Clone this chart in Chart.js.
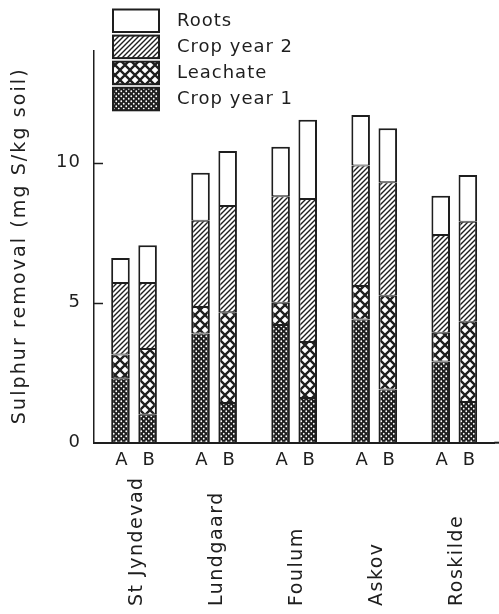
<!DOCTYPE html>
<html>
<head>
<meta charset="utf-8">
<script src="https://cdn.jsdelivr.net/npm/chart.js@4.4.0/dist/chart.umd.min.js"></script>
<style>
  html, body { margin: 0; padding: 0; background: #fff; }
  #wrap { width: 499px; height: 614px; }
</style>
</head>
<body>
<div id="wrap"><canvas id="c" width="499" height="614"></canvas></div>
<script>
// Sulphur removal per site and treatment, mg S/kg soil
const sites = ['St Jyndevad', 'Lundgaard', 'Foulum', 'Askov', 'Roskilde'];
const treatments = ['A', 'B'];
const components = ['Crop year 1', 'Leachate', 'Crop year 2', 'Roots'];

const cropYear1A = [2.3, 3.9, 4.2, 4.4, 2.9];
const leachateA  = [0.85, 0.95, 0.8, 1.2, 1.03];
const cropYear2A = [2.55, 3.08, 3.8, 4.3, 3.49];
const rootsA     = [0.9, 1.71, 1.77, 1.8, 1.4];

const cropYear1B = [1.0, 1.42, 1.6, 1.9, 1.45];
const leachateB  = [2.35, 3.24, 2.0, 3.35, 2.87];
const cropYear2B = [2.35, 3.79, 5.1, 4.05, 3.57];
const rootsB     = [1.35, 1.97, 2.83, 1.93, 1.67];

const yTicks = [0, 5, 10];
const yTitle = 'Sulphur removal (mg S/kg soil)';

const INK = '#1e1e1e';
const FONT = '"DejaVu Sans", sans-serif';

// Fill patterns for the four components
function makePattern(kind) {
  const c = document.createElement('canvas');
  const g = c.getContext('2d');
  if (kind === 'plain') {
    return '#ffffff';
  }
  if (kind === 'hatch') {
    c.width = 5; c.height = 5;
    g.fillStyle = '#fff'; g.fillRect(0, 0, 5, 5);
    g.strokeStyle = INK; g.lineWidth = 1.4;
    g.beginPath();
    g.moveTo(-1, 6); g.lineTo(6, -1);
    g.moveTo(-1, 1); g.lineTo(1, -1);
    g.moveTo(4, 6); g.lineTo(6, 4);
    g.stroke();
  } else if (kind === 'lattice') {
    c.width = 10; c.height = 10;
    g.fillStyle = '#fff'; g.fillRect(0, 0, 10, 10);
    g.strokeStyle = INK; g.lineWidth = 2.3;
    g.beginPath();
    g.moveTo(-2, -2); g.lineTo(12, 12);
    g.moveTo(12, -2); g.lineTo(-2, 12);
    g.stroke();
  } else if (kind === 'dots') {
    c.width = 5; c.height = 5;
    g.fillStyle = INK; g.fillRect(0, 0, 5, 5);
    g.fillStyle = '#fff';
    g.beginPath(); g.arc(1.25, 1.25, 0.9, 0, Math.PI * 2); g.fill();
    g.beginPath(); g.arc(3.75, 3.75, 0.9, 0, Math.PI * 2); g.fill();
  }
  return g.createPattern(c, 'repeat');
}

const fills = {
  'Crop year 1': makePattern('dots'),
  'Leachate': makePattern('lattice'),
  'Crop year 2': makePattern('hatch'),
  'Roots': makePattern('plain')
};

const seriesA = [cropYear1A, leachateA, cropYear2A, rootsA];
const seriesB = [cropYear1B, leachateB, cropYear2B, rootsB];

function buildDatasets(series, stack) {
  return series.map((values, i) => ({
    label: components[i],
    data: values,
    stack: stack,
    backgroundColor: fills[components[i]],
    borderColor: INK,
    borderWidth: { top: i === 3 ? 2 : 1, bottom: 1, left: 2, right: 2 },
    borderSkipped: false
  }));
}

const datasets = [
  ...buildDatasets(seriesA, treatments[0]),
  ...buildDatasets(seriesB, treatments[1])
];

// Letter spacing for the plotter-style lettering
const spacingPlugin = {
  id: 'spacing',
  beforeDraw(chart) { chart.ctx.letterSpacing = '1px'; }
};

// Inward y ticks, axis title, treatment letters, rotated site names, legend
const decorPlugin = {
  id: 'decor',
  afterDraw(chart) {
    const ctx = chart.ctx;
    const xs = chart.scales.x;
    const ys = chart.scales.y;
    const area = chart.chartArea;
    ctx.save();
    ctx.strokeStyle = INK;
    ctx.lineWidth = 1.5;

    // tick marks pointing into the plot
    ys.ticks.forEach(t => {
      if (t.value === 0) return;
      const y = Math.round(ys.getPixelForValue(t.value)) + 0.5;
      ctx.beginPath();
      ctx.moveTo(ys.right, y);
      ctx.lineTo(ys.right + 9, y);
      ctx.stroke();
    });

    // baseline continues to the edge
    ctx.lineWidth = 2;
    ctx.beginPath();
    ctx.moveTo(area.right, xs.top);
    ctx.lineTo(chart.width, xs.top);
    ctx.stroke();

    ctx.fillStyle = INK;
    ctx.textBaseline = 'middle';

    // y-axis title
    ctx.save();
    ctx.font = '19px ' + FONT;
    ctx.letterSpacing = '2.1px';
    ctx.textAlign = 'center';
    ctx.translate(20, (ys.top + ys.bottom) / 2 - 1);
    ctx.rotate(-Math.PI / 2);
    ctx.fillText(yTitle, 0, 0);
    ctx.restore();

    ctx.letterSpacing = '1px';
    ctx.font = '18px ' + FONT;
    ctx.textAlign = 'center';
    treatments.forEach((t, k) => {
      const meta = chart.getDatasetMeta(k * components.length);
      meta.data.forEach(el => ctx.fillText(t, el.x + 1.5, xs.top + 18));
    });

    ctx.save();
    ctx.font = '19px ' + FONT;
    ctx.letterSpacing = '1.5px';
    sites.forEach((s, i) => {
      const x = xs.getPixelForValue(i);
      ctx.save();
      ctx.translate(x + 3, 606);
      ctx.rotate(-Math.PI / 2);
      ctx.textAlign = 'left';
      ctx.fillText(s, 0, 0);
      ctx.restore();
    });
    ctx.restore();

    // legend, top entry first
    const order = components.slice().reverse();
    order.forEach((name, j) => {
      const top = 9.5 + j * 26.1;
      ctx.fillStyle = fills[name];
      ctx.fillRect(113, top, 46, 22.5);
      ctx.lineWidth = 2;
      ctx.strokeStyle = INK;
      ctx.strokeRect(113, top, 46, 22.5);
      ctx.fillStyle = INK;
      ctx.textAlign = 'left';
      ctx.fillText(name, 177, top + 11.5);
    });
    ctx.restore();
  }
};

new Chart(document.getElementById('c'), {
  type: 'bar',
  data: { labels: sites, datasets: datasets },
  options: {
    responsive: false,
    animation: false,
    layout: { padding: { top: 50.7, right: 4.7, left: 0, bottom: 0 } },
    plugins: { legend: { display: false }, tooltip: { enabled: false } },
    datasets: { bar: { categoryPercentage: 0.6775, barPercentage: 0.685 } },
    scales: {
      x: {
        stacked: true,
        grid: { display: false, drawTicks: false },
        border: { color: INK, width: 2 },
        ticks: { display: false },
        afterFit(s) { s.height = 171.3; }
      },
      y: {
        stacked: true,
        min: 0,
        max: 14,
        afterFit(s) { s.width = 94; },
        grid: { display: false, drawTicks: false },
        border: { color: INK, width: 1.5 },
        afterBuildTicks(s) { s.ticks = yTicks.map(v => ({ value: v })); },
        ticks: {
          padding: 13,
          color: INK,
          font: { family: FONT, size: 18 }
        }
      }
    }
  },
  plugins: [spacingPlugin, decorPlugin]
});
</script>
</body>
</html>
